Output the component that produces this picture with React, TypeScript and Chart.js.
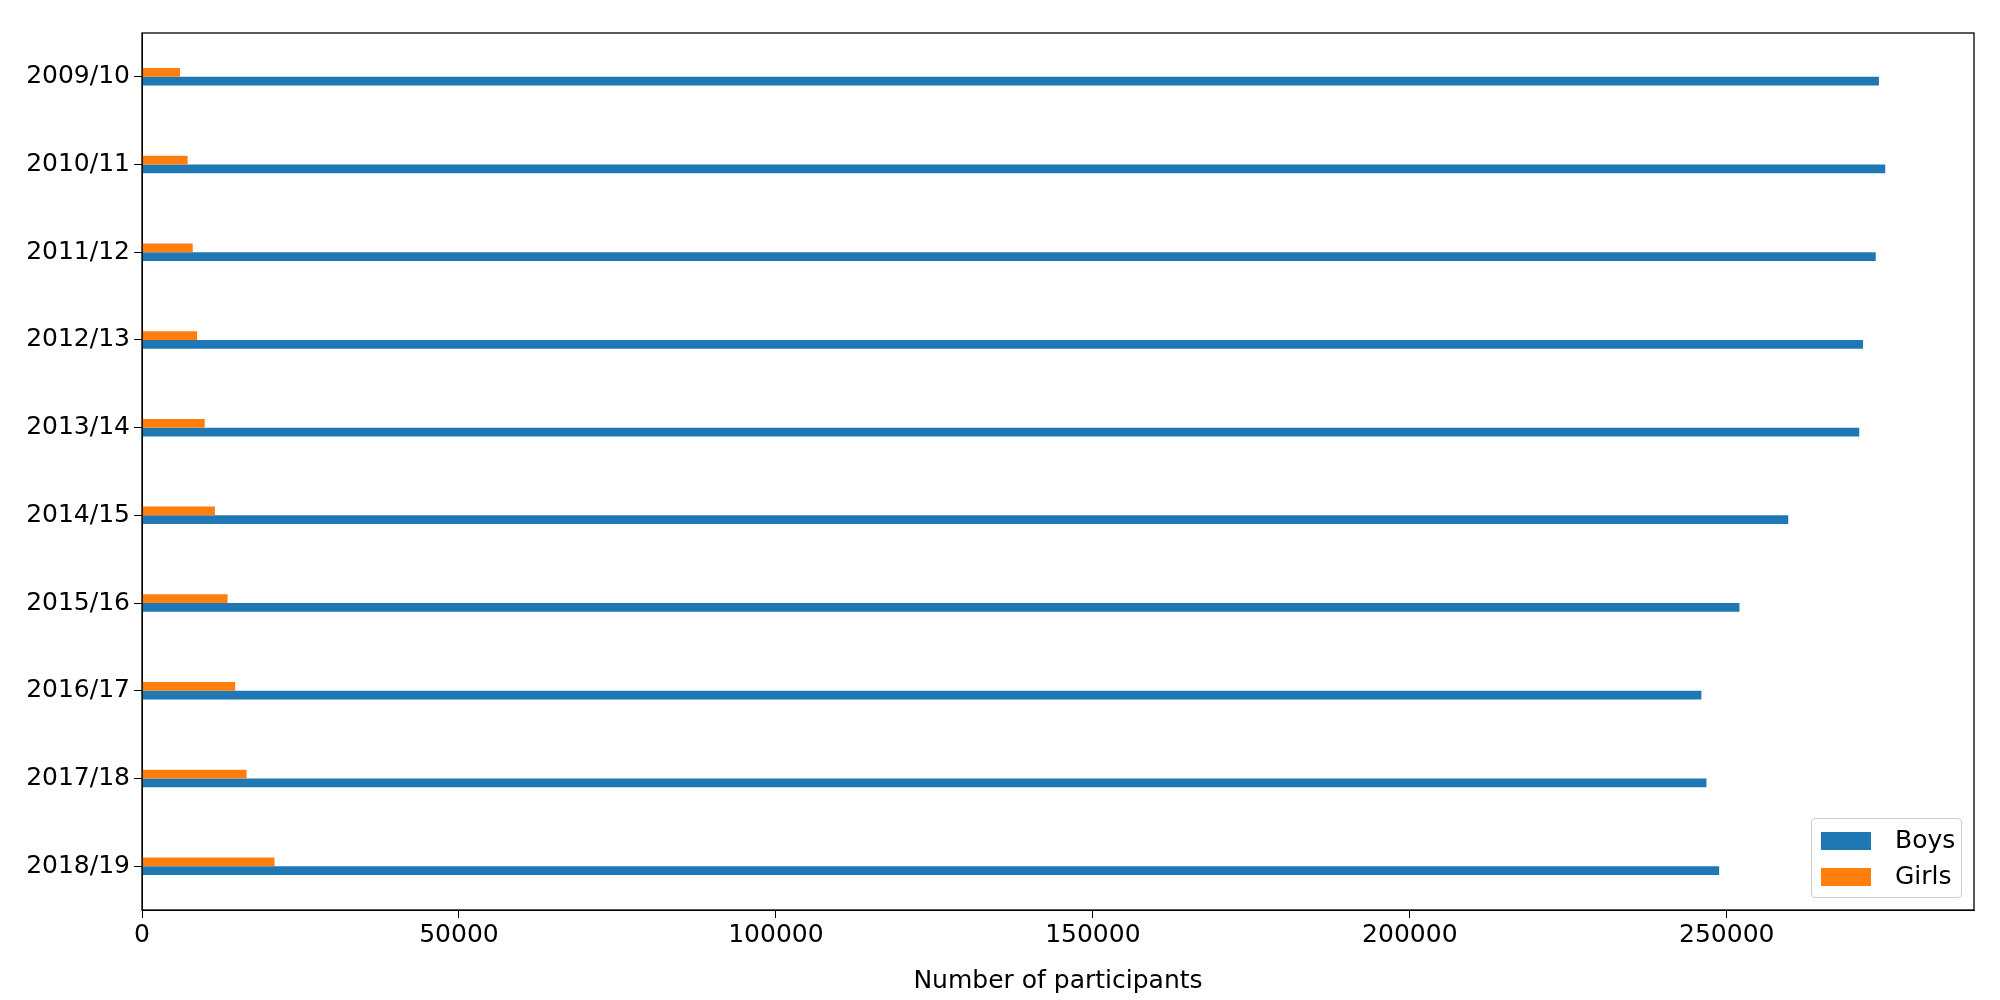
import { useEffect, useRef } from 'react';
import { Chart, registerables } from 'chart.js';

Chart.register(...registerables);

const seasons = ['2009/10', '2010/11', '2011/12', '2012/13', '2013/14', '2014/15', '2015/16', '2016/17', '2017/18', '2018/19'];
const boys = [274000, 275000, 273500, 271500, 270900, 259700, 252000, 246000, 246800, 248800];
const girls = [6000, 7200, 8000, 8700, 9900, 11500, 13500, 14700, 16500, 20900];
const xTicks = [0, 50000, 100000, 150000, 200000, 250000];

const FONT = 'DejaVu Sans';

const frame = {
  id: 'frame',
  afterDraw(chart) {
    const { ctx, chartArea: a } = chart;
    ctx.save();
    ctx.strokeStyle = '#000';
    ctx.lineWidth = 1.3;
    ctx.strokeRect(a.left, a.top, a.right - a.left, a.bottom - a.top);
    ctx.restore();
  },
};

const App = () => {
  const canvasRef = useRef(null);

  useEffect(() => {
    const chart = new Chart(canvasRef.current.getContext('2d'), {
      type: 'bar',
      data: {
        labels: seasons,
        datasets: [
          { label: 'Girls', data: girls, backgroundColor: '#ff7f0e', categoryPercentage: 0.2, barPercentage: 1 },
          { label: 'Boys', data: boys, backgroundColor: '#1f77b4', categoryPercentage: 0.2, barPercentage: 1 },
        ],
      },
      options: {
        indexAxis: 'y',
        animation: false,
        responsive: false,
        layout: { padding: { top: 33, right: 26, left: 0, bottom: 0 } },
        plugins: { legend: { display: false }, tooltip: { enabled: false } },
        scales: {
          x: {
            min: 0,
            max: 289000,
            afterBuildTicks: (s) => { s.ticks = xTicks.map((v) => ({ value: v })); },
            afterFit: (s) => { s.height = 90; },
            grid: { drawOnChartArea: false, tickLength: 8, color: '#000' },
            border: { color: '#000' },
            ticks: { color: '#000', font: { family: FONT, size: 25 }, maxRotation: 0, padding: 2, callback: (v) => String(v) },
            title: { display: true, text: 'Number of participants', color: '#000', font: { family: FONT, size: 25 }, padding: { top: 0 } },
          },
          y: {
            afterFit: (s) => { s.width = 142; },
            grid: { drawOnChartArea: false, tickLength: 8, color: '#000', offset: false },
            border: { color: '#000' },
            ticks: { color: '#000', font: { family: FONT, size: 25 }, padding: 4 },
          },
        },
      },
      plugins: [frame],
    });
    return () => chart.destroy();
  }, []);

  const sw = { display: 'inline-block', width: 50, height: 18, marginRight: 24, verticalAlign: 'middle' };
  return (
    <div style={{ position: 'fixed', left: 0, top: 0, width: 2000, height: 1000, background: '#fff' }}>
      <canvas ref={canvasRef} width={2000} height={1000} />
      <div style={{ position: 'absolute', left: 1811, top: 818, width: 151, height: 80, border: '1px solid #ccc', borderRadius: 4, background: 'rgba(255,255,255,0.8)', fontFamily: FONT, fontSize: 25, boxSizing: 'border-box', padding: '3px 0 0 9px', lineHeight: '36px' }}>
        <div><span style={{ ...sw, background: '#1f77b4' }} />Boys</div>
        <div><span style={{ ...sw, background: '#ff7f0e' }} />Girls</div>
      </div>
    </div>
  );
};

export default App;
